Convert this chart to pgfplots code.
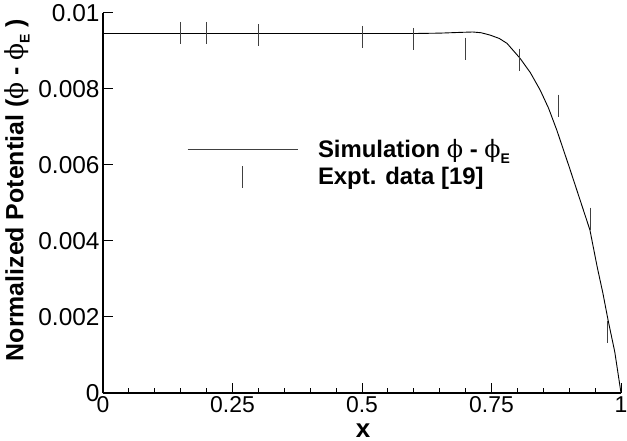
\documentclass[border=0pt]{standalone}
\usepackage{fontspec}
\setmainfont{Liberation Sans}
\newfontfamily\symfont{DejaVu Serif}
\newcommand{\ph}{{\mdseries\symfont ϕ}}
\usepackage{pgfplots}
\pgfplotsset{compat=1.18}
\begin{document}
\begin{tikzpicture}
\useasboundingbox (-103bp,-48bp) rectangle (524bp,393bp);
\begin{axis}[
  scale only axis, width=518bp, height=380bp,
  xmin=0, xmax=1, ymin=0, ymax=0.01,
  axis x line=bottom, axis y line=left,
  axis line style={line width=1.6bp, -},
  xtick={0,0.25,0.5,0.75,1},
  xticklabels={0,0.25,0.5,0.75,1},
  minor x tick num=4,
  ytick={0,0.002,0.004,0.006,0.008,0.01},
  yticklabels={0,0.002,0.004,0.006,0.008,0.01},
  scaled y ticks=false,
  tick align=inside,
  major tick length=10bp, minor tick length=5bp,
  tick style={line width=1bp, black},
  xticklabel style={font=\fontsize{23}{23}\selectfont},
  yticklabel style={font=\fontsize{24.5}{24.5}\selectfont},
  xlabel={\textbf{x}},
  xlabel style={at={(axis description cs:0.502,0)}, anchor=base, yshift=-44bp,
    font=\fontsize{26}{26}\selectfont},
  ylabel={\textbf{Normalized Potential (\ph{} - \ph\raisebox{-0.25em}{\fontsize{14}{14}\selectfont E} )}},
  ylabel style={at={(axis description cs:-0.166,0.534)}, anchor=center,
    font=\fontsize{25}{25}\selectfont},
  legend cell align=left,
  legend style={draw=none, fill=none, at={(axis cs:0.162,0.00605)}, anchor=west,
    font=\bfseries\fontsize{24}{24}\selectfont, row sep=4bp, inner sep=0pt,
    column sep=18bp},
]
% simulation
\addplot[black, line width=0.9bp,
  legend image code/.code={\draw[black!75, line width=0.9bp] (0bp,0bp) -- (110bp,0bp);}]
  coordinates {
  (0,0.00946) (0.3,0.00946) (0.6,0.00946) (0.65,0.00947) (0.69,0.00949)
  (0.714,0.0095) (0.73,0.00948) (0.747,0.00942) (0.765,0.00933) (0.78,0.0092)
  (0.805,0.00881) (0.825,0.00843) (0.844,0.00797) (0.86,0.0075) (0.876,0.00692)
  (0.9,0.00595) (0.92,0.00512) (0.94,0.00429) (0.954,0.00332) (0.965,0.00263)
  (0.975,0.00192) (0.988,0.00108) (1,0)
};
\addlegendentry{Simulation \ph{} - \ph\raisebox{-0.25em}{\fontsize{14}{14}\selectfont E}}
% experiment
\addplot[only marks, mark=|, mark size=11bp, black!75, line width=1bp,
  legend image code/.code={\draw[black!75, line width=1bp] (55bp,-11bp) -- (55bp,11bp);}]
  coordinates {
  (0.15,0.00948) (0.2,0.00948) (0.3,0.00942) (0.5,0.00937) (0.6,0.00932)
  (0.7,0.00906) (0.805,0.00877) (0.88,0.00756) (0.942,0.00459) (0.974,0.0016)
};
\addlegendentry{Expt. data [19]}
\end{axis}
\end{tikzpicture}
\end{document}
